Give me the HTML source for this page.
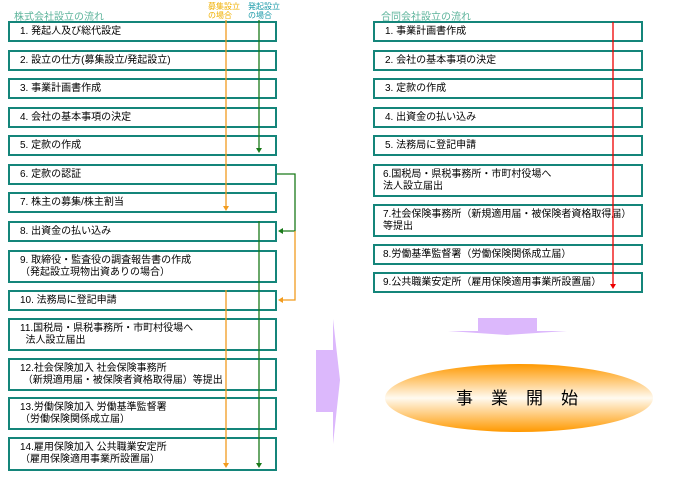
<!DOCTYPE html>
<html><head><meta charset="utf-8"><style>
body{margin:0;width:691px;height:480px;background:#fff;position:relative;overflow:hidden;font-family:"Liberation Sans","Noto Sans CJK JP",sans-serif;}
.b{position:absolute;border:2px solid #14857a;box-sizing:border-box;font-size:10px;line-height:12px;color:#000;padding-left:10px;display:flex;align-items:center;background:transparent}
.t{position:absolute;font-size:10px;color:#5bb39a}
.s{position:absolute;font-size:8px;line-height:9px}
svg{position:absolute;left:0;top:0}
</style></head><body>
<div class="t" style="left:14px;top:8px">株式会社設立の流れ</div>
<div class="s" style="left:208px;top:2px;color:#f0b000">募集設立<br>の場合</div>
<div class="s" style="left:248px;top:2px;color:#1a9aa8">発起設立<br>の場合</div>
<div class="t" style="left:381px;top:8px">合同会社設立の流れ</div>

<div class="b" style="left:8px;top:21px;width:269px;height:21px">1. 発起人及び総代設定</div>
<div class="b" style="left:8px;top:50px;width:269px;height:21px">2. 設立の仕方(募集設立/発起設立)</div>
<div class="b" style="left:8px;top:78px;width:269px;height:21px">3. 事業計画書作成</div>
<div class="b" style="left:8px;top:107px;width:269px;height:21px">4. 会社の基本事項の決定</div>
<div class="b" style="left:8px;top:135px;width:269px;height:21px">5. 定款の作成</div>
<div class="b" style="left:8px;top:164px;width:269px;height:21px">6. 定款の認証</div>
<div class="b" style="left:8px;top:192px;width:269px;height:21px">7. 株主の募集/株主割当</div>
<div class="b" style="left:8px;top:221px;width:269px;height:21px">8. 出資金の払い込み</div>
<div class="b" style="left:8px;top:250px;width:269px;height:33px">9. 取締役・監査役の調査報告書の作成<br>（発起設立現物出資ありの場合）</div>
<div class="b" style="left:8px;top:290px;width:269px;height:21px">10. 法務局に登記申請</div>
<div class="b" style="left:8px;top:318px;width:269px;height:33px">11.国税局・県税事務所・市町村役場へ<br>&nbsp;&nbsp;法人設立届出</div>
<div class="b" style="left:8px;top:358px;width:269px;height:33px">12.社会保険加入 社会保険事務所<br>&nbsp;（新規適用届・被保険者資格取得届）等提出</div>
<div class="b" style="left:8px;top:397px;width:269px;height:33px">13.労働保険加入 労働基準監督署<br>（労働保険関係成立届）</div>
<div class="b" style="left:8px;top:437px;width:269px;height:34px">14.雇用保険加入 公共職業安定所<br>（雇用保険適用事業所設置届）</div>

<div class="b" style="left:373px;top:21px;width:270px;height:21px">1. 事業計画書作成</div>
<div class="b" style="left:373px;top:50px;width:270px;height:21px">2. 会社の基本事項の決定</div>
<div class="b" style="left:373px;top:78px;width:270px;height:21px">3. 定款の作成</div>
<div class="b" style="left:373px;top:107px;width:270px;height:21px">4. 出資金の払い込み</div>
<div class="b" style="left:373px;top:135px;width:270px;height:21px">5. 法務局に登記申請</div>
<div class="b" style="left:373px;top:164px;width:270px;height:33px;padding-left:8px">6.国税局・県税事務所・市町村役場へ<br>法人設立届出</div>
<div class="b" style="left:373px;top:204px;width:270px;height:33px;padding-left:8px">7.社会保険事務所（新規適用届・被保険者資格取得届）<br>等提出</div>
<div class="b" style="left:373px;top:244px;width:270px;height:21px;padding-left:8px">8.労働基準監督署（労働保険関係成立届）</div>
<div class="b" style="left:373px;top:272px;width:270px;height:21px;padding-left:8px">9.公共職業安定所（雇用保険適用事業所設置届）</div>

<svg width="691" height="480">
<defs>
<linearGradient id="lg" x1="0" y1="0" x2="0" y2="1"><stop offset="0" stop-color="#ff9900"/><stop offset="0.5" stop-color="#fffaf0"/><stop offset="1" stop-color="#ff9900"/></linearGradient></defs>
<g fill="none" stroke-width="1.3">
<line x1="226" y1="20" x2="226" y2="207" stroke="#f29c1f"/>
<line x1="226" y1="290" x2="226" y2="466" stroke="#f29c1f"/>
<line x1="259" y1="20" x2="259" y2="150" stroke="#1a7a1a"/>
<line x1="259" y1="221" x2="259" y2="466" stroke="#1a7a1a"/>
<polyline points="277,174 295,174 295,231 282,231" stroke="#1a7a1a"/>
<polyline points="295,231 295,300 282,300" stroke="#f29c1f"/>
<line x1="613" y1="22" x2="613" y2="285" stroke="#e00"/>
</g>
<polygon points="223,206 229,206 226,211" fill="#f29c1f"/>
<polygon points="223,463 229,463 226,468" fill="#f29c1f"/>
<polygon points="256,148 262,148 259,153" fill="#1a7a1a"/>
<polygon points="256,463 262,463 259,468" fill="#1a7a1a"/>
<polygon points="283,228 283,234 278,231" fill="#1a7a1a"/>
<polygon points="283,297 283,303 278,300" fill="#f29c1f"/>
<polygon points="610,284 616,284 613,289" fill="#e00"/>
<polygon points="478,318 537,318 537,331 567,331 507,335 448,331 478,331" fill="#dcb8fc"/>
<polygon points="316,350 333,350 333,319 340,380 333,444 333,412 316,412" fill="#dcb8fc"/>
<ellipse cx="519" cy="398" rx="134" ry="34" fill="url(#lg)"/>
<text x="526" y="404" text-anchor="middle" font-size="17" letter-spacing="18" font-family="Liberation Sans, Noto Sans CJK JP, sans-serif" fill="#000">事業開始</text>
</svg>
</body></html>
